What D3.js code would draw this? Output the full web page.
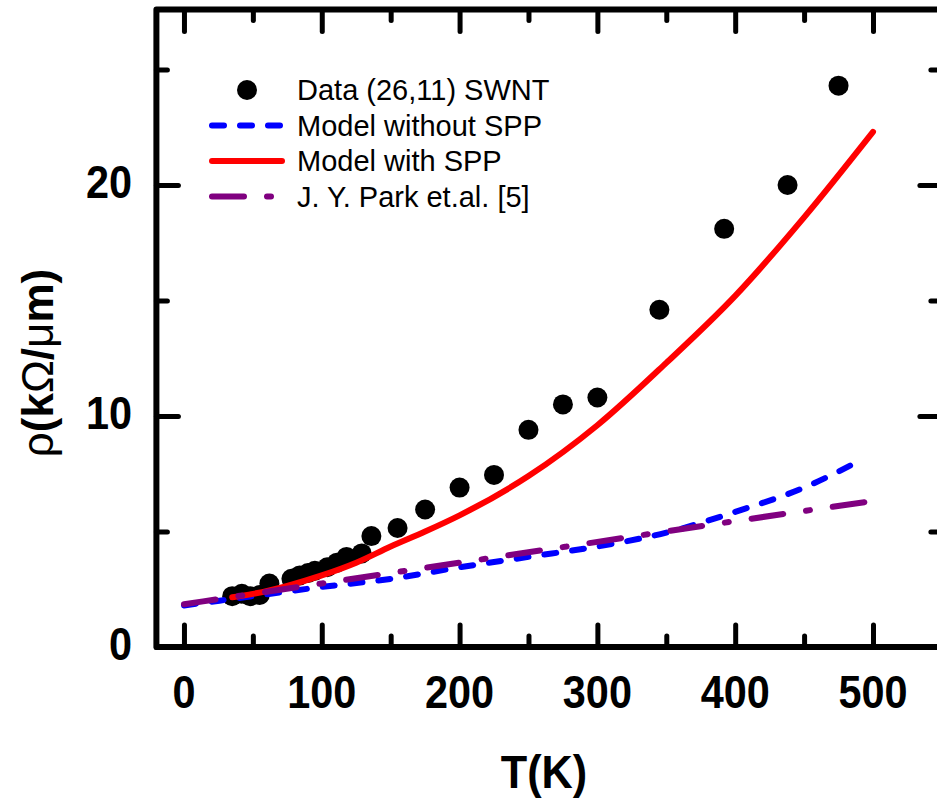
<!DOCTYPE html>
<html>
<head>
<meta charset="utf-8">
<script src="https://cdn.jsdelivr.net/npm/d3@7"></script>
<style>
body { margin: 0; background: #fff; }
svg { display: block; }
</style>
</head>
<body>
<svg id="chart"></svg>
<script>
var w = 937;
var h = 800;

// measured (26,11) SWNT resistivity
var dataT   = [35, 42, 48, 55, 62, 78, 84, 90, 95, 104, 111, 118, 129, 136, 155, 175, 200, 225, 250, 275, 300, 345, 392, 438, 475]
var dataRho = [2.2, 2.3, 2.2, 2.25, 2.75, 2.95, 3.1, 3.2, 3.3, 3.45, 3.65, 3.9, 4.05, 4.8, 5.15, 5.95, 6.9, 7.45, 9.4, 10.5, 10.8, 14.6, 18.1, 20.0, 24.3]

// model with SPP (red)
var sppT   = [35, 50, 75, 100, 125, 150, 175, 200, 250, 300, 350, 400, 450, 500]
var sppRho = [2.15, 2.3, 2.65, 3.1, 3.65, 4.35, 5.0, 5.7, 7.4, 9.6, 12.3, 15.2, 18.6, 22.3]

// model without SPP (blue)
var noSppT   = [0, 50, 100, 150, 200, 250, 300, 350, 400, 450, 490]
var noSppRho = [1.8, 2.2, 2.6, 2.95, 3.45, 3.9, 4.35, 4.95, 5.85, 6.9, 8.05]

// J. Y. Park et.al. [5] (purple)
var parkT   = [0, 100, 200, 300, 400, 500]
var parkRho = [1.85, 2.75, 3.65, 4.55, 5.45, 6.32]

var xMajor = [0, 100, 200, 300, 400, 500]
var xMinor = [50, 150, 250, 350, 450]
var yMajor = [0, 10, 20]
var yMinor = [5, 15, 25]

var legendNames = ['Data (26,11) SWNT', 'Model without SPP', 'Model with SPP', 'J. Y. Park et.al. [5]']

var font = '"Liberation Sans", Arial, Helvetica, sans-serif'

var svg = d3.select('#chart')
  .attr('width', w)
  .attr('height', h)
  .attr('viewBox', [0, 0, w, h])

var x = d3.scaleLinear().domain([-20, 550]).range([156.4, 941.9])
var y = d3.scaleLinear().domain([0, 27.6]).range([647, 9.4])

function pts(ts, vs){
  return ts.map((t, i) => [t, vs[i]])
}

var line = d3.line()
  .x(d => x(d[0]))
  .y(d => y(d[1]))
  .curve(d3.curveMonotoneX)

// data points
svg.append('g')
  .selectAll('circle')
  .data(pts(dataT, dataRho))
  .enter()
  .append('circle')
  .attr('cx', d => x(d[0]))
  .attr('cy', d => y(d[1]))
  .attr('r', 10)
  .style('fill', '#000')

// model curves
svg.append('path')
  .attr('d', line(pts(noSppT, noSppRho)))
  .style('fill', 'none')
  .style('stroke', '#0000ff')
  .style('stroke-width', 6)
  .style('stroke-linecap', 'round')
  .style('stroke-dasharray', '12,16')

svg.append('path')
  .attr('d', line(pts(sppT, sppRho)))
  .style('fill', 'none')
  .style('stroke', '#ff0000')
  .style('stroke-width', 6)
  .style('stroke-linecap', 'round')

svg.append('path')
  .attr('d', line(pts(parkT, parkRho)))
  .style('fill', 'none')
  .style('stroke', '#800080')
  .style('stroke-width', 6)
  .style('stroke-linecap', 'round')
  .style('stroke-dasharray', '32,23,4,23')

// frame
svg.append('rect')
  .attr('x', x(-20))
  .attr('y', y(27.6))
  .attr('width', x(550) - x(-20))
  .attr('height', y(0) - y(27.6))
  .style('fill', 'none')
  .style('stroke', '#000')
  .style('stroke-width', 6)
  .style('stroke-linejoin', 'round')

// inward ticks on all four sides
function ticks(axisFn, scale, vals, size, tr){
  var g = svg.append('g')
    .attr('transform', tr)
    .call(axisFn(scale).tickValues(vals).tickSize(-size).tickFormat(''))
  g.select('.domain').remove()
  g.selectAll('line')
    .style('stroke', '#000')
    .style('stroke-width', 5)
    .style('stroke-linecap', 'round')
}
ticks(d3.axisBottom, x, xMajor, 22, 'translate(0,' + y(0) + ')')
ticks(d3.axisBottom, x, xMinor, 11, 'translate(0,' + y(0) + ')')
ticks(d3.axisTop, x, xMajor, 22, 'translate(0,' + y(27.6) + ')')
ticks(d3.axisTop, x, xMinor, 11, 'translate(0,' + y(27.6) + ')')
ticks(d3.axisLeft, y, yMajor, 22, 'translate(' + x(-20) + ',0)')
ticks(d3.axisLeft, y, yMinor, 11, 'translate(' + x(-20) + ',0)')
ticks(d3.axisRight, y, yMajor, 22, 'translate(' + x(550) + ',0)')
ticks(d3.axisRight, y, yMinor, 11, 'translate(' + x(550) + ',0)')

// tick labels
svg.append('g')
  .selectAll('text')
  .data(xMajor)
  .enter()
  .append('text')
  .attr('transform', d => 'translate(' + x(d) + ',708) scale(0.9,1)')
  .attr('text-anchor', 'middle')
  .style('font-family', font)
  .style('font-weight', 'bold')
  .style('font-size', '46px')
  .text(d => d)

svg.append('g')
  .selectAll('text')
  .data(yMajor)
  .enter()
  .append('text')
  .attr('transform', d => 'translate(132,' + (y(d) + 13) + ') scale(0.9,1)')
  .attr('text-anchor', 'end')
  .style('font-family', font)
  .style('font-weight', 'bold')
  .style('font-size', '46px')
  .text(d => d)

// axis titles
svg.append('text')
  .attr('transform', 'translate(544,788) scale(0.94,1)')
  .attr('text-anchor', 'middle')
  .style('font-family', font)
  .style('font-weight', 'bold')
  .style('font-size', '46px')
  .text('T(K)')

var yt = svg.append('text')
  .attr('transform', 'translate(53,363) rotate(-90)')
  .attr('text-anchor', 'middle')
  .style('font-family', font)
  .style('font-weight', 'bold')
  .style('font-size', '44px')
yt.append('tspan').style('font-weight', 'normal').text('ρ')
yt.append('tspan').text('(k')
yt.append('tspan').style('font-weight', 'normal').text('Ω')
yt.append('tspan').text('/')
yt.append('tspan').style('font-weight', 'normal').text('μ')
yt.append('tspan').text('m)')

// legend
var lx0 = 212, lx1 = 282, ltx = 297, ly0 = 90, ldy = 35.5
var legendStyles = [
  {colour: '#0000ff', dash: '12,16'},
  {colour: '#ff0000', dash: null},
  {colour: '#800080', dash: '32,23,4,23'}
]
svg.append('circle')
  .attr('cx', 247)
  .attr('cy', ly0)
  .attr('r', 10)
  .style('fill', '#000')
legendStyles.forEach((s, i) => {
  svg.append('line')
    .attr('x1', lx0).attr('x2', lx1)
    .attr('y1', ly0 + ldy * (i + 1)).attr('y2', ly0 + ldy * (i + 1))
    .style('stroke', s.colour)
    .style('stroke-width', 6)
    .style('stroke-linecap', 'round')
    .style('stroke-dasharray', s.dash)
})
svg.append('g')
  .selectAll('text')
  .data(legendNames)
  .enter()
  .append('text')
  .attr('x', ltx)
  .attr('y', (d, i) => ly0 + ldy * i + 10)
  .style('font-family', font)
  .style('font-size', '29px')
  .text(d => d)
</script>
</body>
</html>
